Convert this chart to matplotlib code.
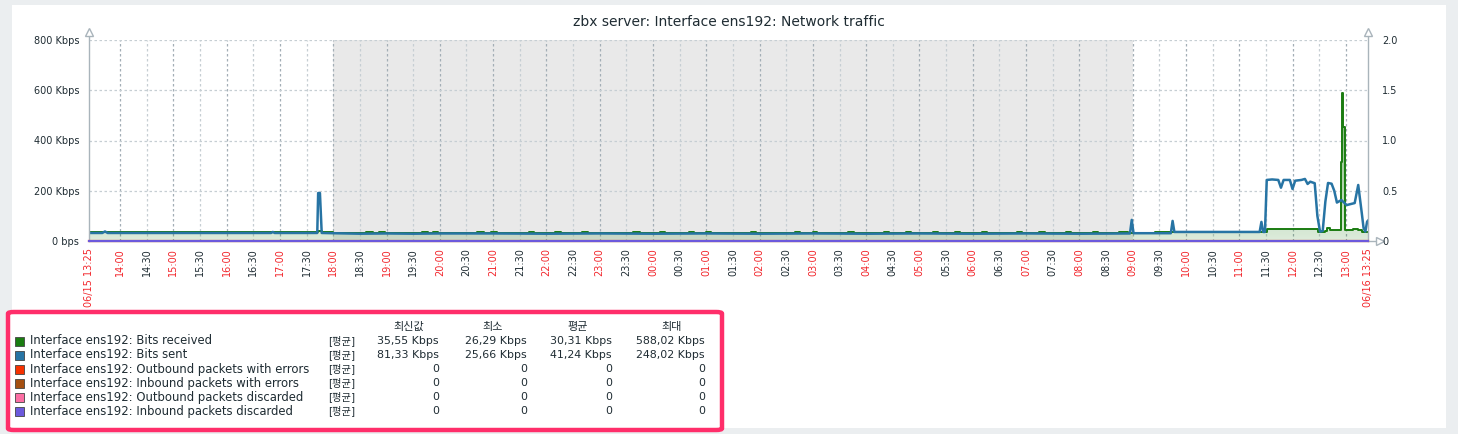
import numpy as np
import pandas as pd
import matplotlib
matplotlib.use("Agg")
import matplotlib.pyplot as plt
import matplotlib.dates as mdates
from matplotlib.colors import to_rgb
from matplotlib.patches import Rectangle, FancyBboxPatch

plt.rcParams['font.family'] = ['DejaVu Sans', 'Noto Sans CJK KR']

title = "zbx server: Interface ens192: Network traffic"

# Bits sent (Kbps)
sent_time = ["06-15 13:25", "06-15 13:40", "06-15 13:43", "06-15 13:46", "06-15 16:50",
             "06-15 16:52", "06-15 16:54", "06-15 17:42", "06-15 17:43", "06-15 17:45",
             "06-15 17:47", "06-15 18:00", "06-15 18:30", "06-15 19:00", "06-15 19:30",
             "06-15 20:00", "06-15 21:00", "06-15 22:00", "06-15 23:00", "06-16 00:00",
             "06-16 01:00", "06-16 02:00", "06-16 03:00", "06-16 04:00", "06-16 05:00",
             "06-16 06:00", "06-16 07:00", "06-16 08:00", "06-16 08:57", "06-16 08:59",
             "06-16 09:01", "06-16 09:43", "06-16 09:45", "06-16 09:47", "06-16 11:23",
             "06-16 11:25", "06-16 11:27", "06-16 11:29", "06-16 11:31", "06-16 11:37",
             "06-16 11:44", "06-16 11:47", "06-16 11:50", "06-16 11:57", "06-16 12:00",
             "06-16 12:03", "06-16 12:10", "06-16 12:14", "06-16 12:17", "06-16 12:20",
             "06-16 12:25", "06-16 12:28", "06-16 12:31", "06-16 12:34", "06-16 12:37",
             "06-16 12:40", "06-16 12:44", "06-16 12:47", "06-16 12:50", "06-16 12:55",
             "06-16 13:01", "06-16 13:10", "06-16 13:14", "06-16 13:18", "06-16 13:20",
             "06-16 13:22", "06-16 13:24", "06-16 13:25"]
sent_kbps = [32, 32, 38, 32, 32,
             36, 32, 32, 191, 191,
             32, 31, 29, 30, 29,
             30, 30, 29, 30, 29,
             30, 29, 30, 29, 30,
             29, 30, 29, 30, 84,
             31, 31, 80, 36, 36,
             76, 36, 36, 243, 245,
             243, 212, 243, 243, 207,
             240, 243, 247, 227, 236,
             230, 100, 37, 40, 157,
             231, 228, 200, 153, 163,
             143, 151, 223, 111, 52,
             37, 77, 81]

# Bits received (Kbps), step values
recv_time = ["06-15 13:25", "06-15 17:43", "06-15 17:47", "06-15 18:00",
             "06-15 18:37", "06-15 18:45", "06-15 18:52", "06-15 18:58",
             "06-15 19:40", "06-15 19:47", "06-15 19:52", "06-15 19:58",
             "06-15 20:42", "06-15 20:50", "06-15 20:58", "06-15 21:04",
             "06-15 21:40", "06-15 21:46", "06-15 22:10", "06-15 22:16",
             "06-15 22:40", "06-15 22:47", "06-15 23:38", "06-15 23:45",
             "06-16 00:08", "06-16 00:14", "06-16 00:40", "06-16 00:46",
             "06-16 01:00", "06-16 01:05", "06-16 01:50", "06-16 01:56",
             "06-16 02:40", "06-16 02:46", "06-16 03:00", "06-16 03:05",
             "06-16 03:40", "06-16 03:46", "06-16 04:20", "06-16 04:26",
             "06-16 04:45", "06-16 04:50", "06-16 05:15", "06-16 05:21",
             "06-16 05:40", "06-16 05:46", "06-16 06:10", "06-16 06:16",
             "06-16 06:50", "06-16 06:56", "06-16 07:15", "06-16 07:21",
             "06-16 07:45", "06-16 07:51", "06-16 08:15", "06-16 08:21",
             "06-16 08:45", "06-16 08:55", "06-16 09:25", "06-16 09:45",
             "06-16 11:31", "06-16 11:33", "06-16 11:36", "06-16 12:29",
             "06-16 12:37", "06-16 12:39", "06-16 12:42", "06-16 12:55",
             "06-16 12:56", "06-16 12:57", "06-16 12:59", "06-16 13:08",
             "06-16 13:14", "06-16 13:18", "06-16 13:25"]
recv_kbps = [36, 38, 36, 31,
             34, 31, 34, 31,
             34, 31, 34, 31,
             34, 31, 34, 31,
             34, 31, 34, 31,
             34, 31, 34, 31,
             34, 31, 34, 31,
             34, 31, 34, 31,
             34, 31, 34, 31,
             34, 31, 34, 31,
             34, 31, 34, 31,
             34, 31, 34, 31,
             34, 31, 34, 31,
             34, 31, 34, 31,
             34, 32, 34, 35,
             46, 48, 46, 37,
             40, 52, 45, 316,
             588, 454, 42, 47,
             43, 37, 36]

night_start = "06-15 18:00"
night_end = "06-16 09:00"
t_start = "06-15 13:25"
t_end = "06-16 13:25"

series_names = ["Interface ens192: Bits received", "Interface ens192: Bits sent",
                "Interface ens192: Outbound packets with errors",
                "Interface ens192: Inbound packets with errors",
                "Interface ens192: Outbound packets discarded",
                "Interface ens192: Inbound packets discarded"]
series_colors = ['#1A7C11', '#2774A4', '#F63100', '#A54F10', '#FC6EA3', '#6C59DC']
legend_headers = ["최신값", "최소", "평균", "최대"]
last_vals = ["35,55 Kbps", "81,33 Kbps", "0", "0", "0", "0"]
min_vals = ["26,29 Kbps", "25,66 Kbps", "0", "0", "0", "0"]
avg_vals = ["30,31 Kbps", "41,24 Kbps", "0", "0", "0", "0"]
max_vals = ["588,02 Kbps", "248,02 Kbps", "0", "0", "0", "0"]
packets_zero = [0, 0]

left_ticks = [0, 200, 400, 600, 800]
left_labels = ["0 bps", "200 Kbps", "400 Kbps", "600 Kbps", "800 Kbps"]
right_ticks = [0, 0.5, 1.0, 1.5, 2.0]
right_labels = ["0", "0.5", "1.0", "1.5", "2.0"]


def tnum(s):
    return mdates.date2num(pd.to_datetime("2024-" + s, format="%Y-%m-%d %H:%M"))


W, H = 1458, 434
fx = lambda px: px / W
fy = lambda py: 1 - py / H

fig = plt.figure(figsize=(W / 100, H / 100), dpi=100, facecolor='#ebeef0')
fig.patches.append(Rectangle((fx(12), fy(428)), (1446 - 12) / W, (428 - 5) / H,
                             transform=fig.transFigure, facecolor='white',
                             edgecolor='none', zorder=-5))

ax = fig.add_axes([fx(89), fy(241), (1368 - 89) / W, 201 / H])
ax.patch.set_alpha(0)
x0, x1 = tnum(t_start), tnum(t_end)
grid_c = '#a9b4bb'

ax.axvspan(tnum(night_start), tnum(night_end), color='#e9e9e9', zorder=0, lw=0)

ticks = pd.date_range("2024-06-15 14:00", "2024-06-16 13:00", freq="30min")
for t in ticks:
    c = '#a3aeb6' if t.minute == 0 else '#c6ced3'
    ax.axvline(mdates.date2num(t), color=c, lw=0.9, ls=(0, (2, 2)), zorder=1)
for v in left_ticks[1:]:
    ax.axhline(v, color='#c6ced3', lw=0.9, ls=(0, (2, 2)), zorder=1)

# Bits received: gradient filled region
rx = [tnum(s) for s in recv_time]
fill = ax.fill_between(rx, recv_kbps, step='post', facecolor='none', edgecolor='none')
grad = np.zeros((256, 1, 4))
grad[..., :3] = to_rgb(series_colors[0])
grad[:, 0, 3] = np.linspace(0.15, 0.8, 256)
im = ax.imshow(grad, extent=[x0, x1, 0, 800], origin='lower', aspect='auto', zorder=2)
im.set_clip_path(fill.get_paths()[0], transform=ax.transData)
ax.step(rx, recv_kbps, where='post', color=series_colors[0], lw=1.4, zorder=3)

sx = [tnum(s) for s in sent_time]
ax.plot(sx, sent_kbps, color=series_colors[1], lw=1.8, zorder=4)

ax.set_xlim(x0, x1)
ax.set_ylim(0, 800)
for s in ax.spines.values():
    s.set_visible(False)

ax.set_yticks(left_ticks)
ax.set_yticklabels(left_labels)
ax.tick_params(axis='y', length=0, pad=7, labelsize=7, labelcolor='#1f2c33')

all_ticks = [x0] + [mdates.date2num(t) for t in ticks] + [x1]
all_labels = ["06/15 13:25"] + [t.strftime("%H:%M") for t in ticks] + ["06/16 13:25"]
ax.set_xticks(all_ticks)
ax.set_xticklabels(all_labels, rotation=90, fontsize=7)
ax.tick_params(axis='x', length=0, pad=5)
for i, lab in enumerate(ax.get_xticklabels()):
    red = i == 0 or i == len(all_ticks) - 1 or ticks[i - 1].minute == 0
    lab.set_color('#f2262c' if red else '#1f2c33')

ax2 = ax.twinx()
ax2.set_ylim(0, 2)
ax2.set_yticks(right_ticks)
ax2.set_yticklabels(right_labels)
ax2.tick_params(axis='y', length=0, pad=10, labelsize=7, labelcolor='#1f2c33')
for s in ax2.spines.values():
    s.set_visible(False)
for c in series_colors[2:]:
    ax2.plot([x0, x1], packets_zero, color=c, lw=1.5, clip_on=False, zorder=5)

# axis lines with open arrow heads
tr = ax.transAxes
ax.plot([0, 0], [0, 1.03], color=grid_c, lw=1, transform=tr, clip_on=False, zorder=6)
ax.plot([1, 1], [0, 1.03], color=grid_c, lw=1, transform=tr, clip_on=False, zorder=6)
ax.plot([0, 1.006], [0, 0], color=grid_c, lw=1, transform=tr, clip_on=False, zorder=4)
for (ax_x, ax_y, m) in [(0, 1.04, '^'), (1, 1.04, '^'), (1.009, 0, '>')]:
    ax.plot([ax_x], [ax_y], marker=m, ms=6, mfc='white', mec=grid_c, mew=1,
            transform=tr, clip_on=False, zorder=7)

fig.text(fx(729), fy(22), title, ha='center', va='center', fontsize=10, color='#1f2c33')

# legend table
fig.patches.append(FancyBboxPatch((fx(8), fy(430)), (722 - 8) / W, (430 - 312) / H,
                                  boxstyle="round,pad=0,rounding_size=0.004",
                                  transform=fig.transFigure, facecolor='white',
                                  edgecolor='#ff2e6a', lw=3.2, zorder=1))
fs = 8.4
tc = '#1f2c33'
head_x = [409, 493, 578, 672]
col_right = [439, 527, 612, 705]
for hx, h in zip(head_x, legend_headers):
    fig.text(fx(hx), fy(327), h, ha='center', va='center', fontsize=8, color=tc)
row_y = [341, 355, 369, 383, 397, 411]
for i, (name, c) in enumerate(zip(series_names, series_colors)):
    y = row_y[i]
    fig.patches.append(Rectangle((fx(15), fy(y + 4.5)), 9 / W, 9 / H,
                                 transform=fig.transFigure, facecolor=c,
                                 edgecolor='#444444', lw=0.6, zorder=2))
    fig.text(fx(30), fy(y), name, ha='left', va='center', fontsize=fs, color=tc)
    fig.text(fx(328), fy(y), "[평균]", ha='left', va='center', fontsize=7.4, color=tc)
    for cx, vals in zip(col_right, [last_vals, min_vals, avg_vals, max_vals]):
        fig.text(fx(cx), fy(y), vals[i], ha='right', va='center', fontsize=7.9, color=tc)

fig.savefig("out.png", dpi=100, facecolor=fig.get_facecolor())
